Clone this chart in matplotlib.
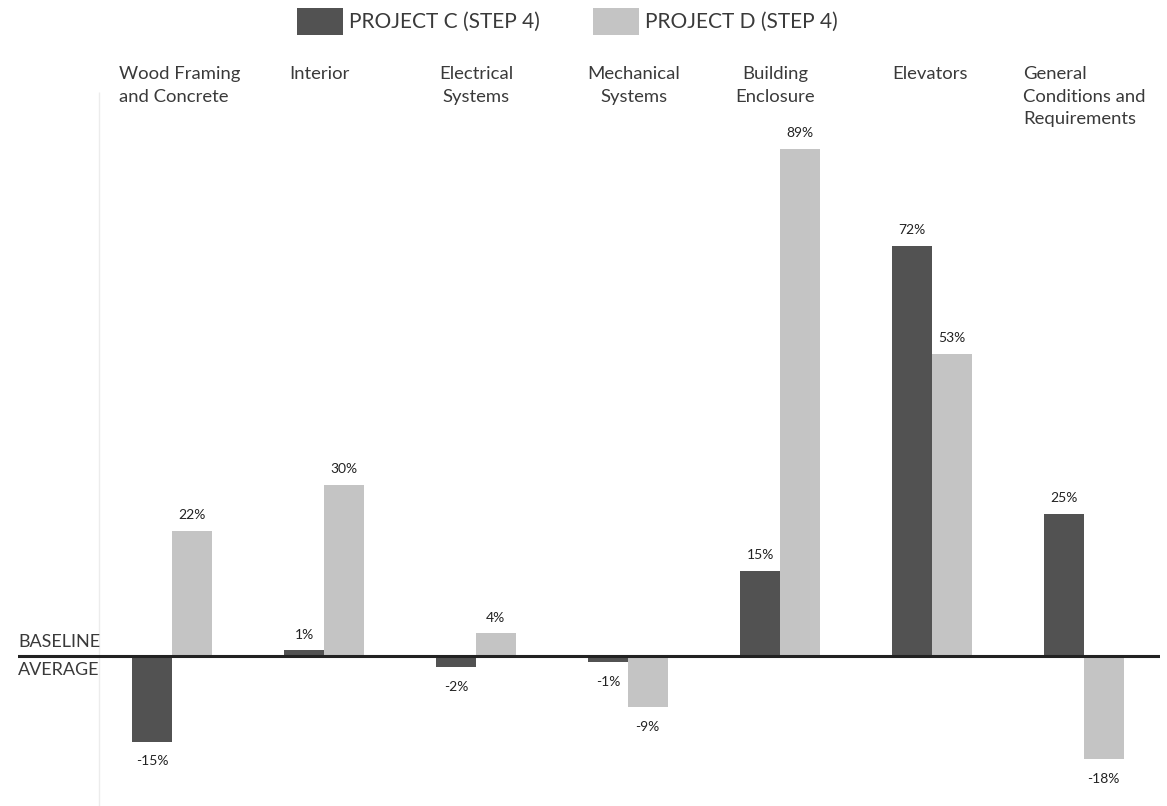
import numpy as np
import matplotlib.pyplot as plt

plt.rcParams['font.family'] = ['Lato', 'DejaVu Sans']

categories = ['Wood Framing\nand Concrete', 'Interior', 'Electrical\nSystems',
              'Mechanical\nSystems', 'Building\nEnclosure', 'Elevators',
              'General\nConditions and\nRequirements']
project_c = [-15, 1, -2, -1, 15, 72, 25]
project_d = [22, 30, 4, -9, 89, 53, -18]
series_names = ['PROJECT C (STEP 4)', 'PROJECT D (STEP 4)']

# header text placement: (offset from group centre, alignment)
label_place = [(-0.35, 'left'), (-0.23, 'left'), (0.0, 'center'), (0.04, 'center'),
               (-0.03, 'center'), (-0.26, 'left'), (-0.40, 'left')]

dark = '#525252'
light = '#c4c4c4'
txt = '#3a3a3a'
w = 0.26

fig = plt.figure(figsize=(11.67, 8.06), dpi=100)
ax = fig.add_axes([18/1167, 0, (1160-18)/1167, 1])
ax.set_xlim(-1.013, 6.5)
ax.set_ylim(-26.3, 115.1)
ax.axis('off')

x = np.arange(len(categories))
bc = ax.bar(x - w/2, project_c, w, color=dark, label=series_names[0])
bd = ax.bar(x + w/2, project_d, w, color=light, label=series_names[1])

for bars, vals in [(bc, project_c), (bd, project_d)]:
    for b, v in zip(bars, vals):
        cx = b.get_x() + b.get_width()/2
        if v >= 0:
            ax.annotate(f'{v}%', (cx, v), xytext=(0, 7), textcoords='offset points',
                        ha='center', va='bottom', fontsize=10, color='#222222')
        else:
            ax.annotate(f'{v}%', (cx, v), xytext=(0, -10), textcoords='offset points',
                        ha='center', va='top', fontsize=10, color='#222222')

for i, (name, (dx, ha)) in enumerate(zip(categories, label_place)):
    ax.text(i + dx, 103.5, name, ha=ha, va='top', fontsize=13.3,
            color=txt, linespacing=1.5, multialignment=ha)

# thin guide on the left and the baseline
ax.vlines(-0.48, -26.3, 99, color='#ececec', lw=1)
ax.axhline(0, color='#222222', lw=2.2)
ax.text(-1.013, 1.0, 'BASELINE', ha='left', va='bottom', fontsize=13, color=txt)
ax.text(-1.013, -1.0, 'AVERAGE', ha='left', va='top', fontsize=13, color=txt)

leg = fig.legend(handles=[bc, bd], loc='upper left', bbox_to_anchor=(297/1167, 1 - 8/806),
                 ncol=2, frameon=False, fontsize=15, handlelength=2.2, handleheight=1.6,
                 handletextpad=0.3, columnspacing=2.55, borderpad=0, borderaxespad=0)
for t in leg.get_texts():
    t.set_color(txt)

fig.savefig('out.png', dpi=100)
